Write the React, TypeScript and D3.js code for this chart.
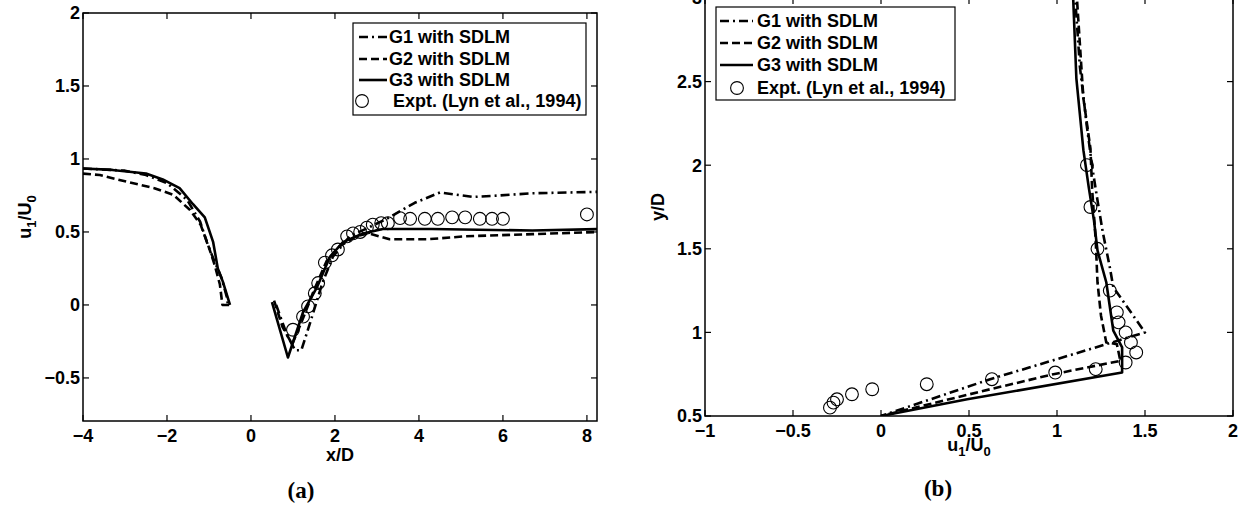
import React from 'react';
import * as d3 from 'd3';

// panel (a): streamwise velocity along the centreline
const aXTicks = [-4, -2, 0, 2, 4, 6, 8];
const aXTickLabels = ['\u22124', '\u22122', '0', '2', '4', '6', '8'];
const aYTicks = [-0.5, 0, 0.5, 1, 1.5, 2];
const aYTickLabels = ['\u22120.5', '0', '0.5', '1', '1.5', '2'];

const aG1Up = [[-4, 0.935], [-3, 0.92], [-2.5, 0.89], [-2.0, 0.835], [-1.52, 0.72], [-1.21, 0.57], [-1.05, 0.43], [-0.9, 0.32], [-0.7, 0.185], [-0.57, 0.05], [-0.55, 0.0]];
const aG2Up = [[-4, 0.9], [-3.6, 0.89], [-2.9, 0.84], [-2.3, 0.8], [-1.85, 0.755], [-1.45, 0.65], [-1.2, 0.55], [-1.02, 0.41], [-0.86, 0.27], [-0.74, 0.14], [-0.68, 0.0], [-0.5, 0.0]];
const aG3Up = [[-4, 0.935], [-3.3, 0.925], [-2.5, 0.9], [-2.1, 0.86], [-1.7, 0.8], [-1.38, 0.69], [-1.1, 0.6], [-0.9, 0.43], [-0.79, 0.25], [-0.67, 0.16], [-0.5, 0.0]];

const aG1Down = [[0.6, 0.0], [0.85, -0.2], [1.05, -0.31], [1.2, -0.31], [1.4, -0.13], [1.7, 0.15], [1.95, 0.33], [2.35, 0.47], [2.8, 0.53], [3.3, 0.6], [3.9, 0.7], [4.5, 0.77], [5.3, 0.74], [5.9, 0.75], [6.7, 0.765], [8.3, 0.775]];
const aG2Down = [[0.55, 0.03], [0.75, -0.15], [0.98, -0.27], [1.2, -0.12], [1.5, 0.1], [1.8, 0.3], [2.1, 0.4], [2.5, 0.47], [2.8, 0.49], [3.3, 0.45], [4.2, 0.45], [5.1, 0.47], [6.7, 0.485], [8.3, 0.5]];
const aG3Down = [[0.5, 0.02], [0.88, -0.36], [1.24, -0.05], [1.57, 0.12], [1.88, 0.33], [2.19, 0.43], [2.67, 0.49], [3.14, 0.52], [4.3, 0.52], [6.7, 0.51], [8.3, 0.52]];

const aExpt = [[1.0, -0.17], [1.24, -0.08], [1.36, -0.01], [1.52, 0.08], [1.6, 0.15], [1.76, 0.29], [1.93, 0.34], [2.07, 0.38], [2.29, 0.47], [2.43, 0.49], [2.6, 0.5], [2.76, 0.53], [2.9, 0.55], [3.1, 0.56], [3.26, 0.56], [3.55, 0.595], [3.79, 0.59], [4.14, 0.59], [4.45, 0.59], [4.79, 0.6], [5.1, 0.6], [5.45, 0.59], [5.74, 0.59], [6.0, 0.59], [8.0, 0.62]];

// panel (b): profile at x/D = 1
const bXTicks = [-1, -0.5, 0, 0.5, 1, 1.5, 2];
const bXTickLabels = ['\u22121', '\u22120.5', '0', '0.5', '1', '1.5', '2'];
const bYTicks = [0.5, 1, 1.5, 2, 2.5, 3];
const bYTickLabels = ['0.5', '1', '1.5', '2', '2.5', '3'];

const bG1 = [[1.1, 3.05], [1.13, 2.59], [1.17, 2.23], [1.2, 1.99], [1.23, 1.79], [1.26, 1.6], [1.3, 1.39], [1.32, 1.27], [1.5, 1.0], [1.0, 0.84], [0.62, 0.72], [0, 0.5]];
const bG2 = [[1.11, 3.05], [1.15, 2.4], [1.19, 2.1], [1.2, 1.85], [1.22, 1.55], [1.23, 1.3], [1.25, 1.1], [1.28, 0.94], [1.34, 0.93], [1.36, 0.83], [0.98, 0.75], [0.62, 0.66], [0, 0.5]];
const bG3 = [[1.09, 3.05], [1.11, 2.52], [1.15, 2.09], [1.18, 1.87], [1.21, 1.67], [1.23, 1.49], [1.28, 1.3], [1.32, 1.01], [1.37, 0.91], [1.37, 0.76], [0.49, 0.6], [0, 0.5]];
const bExpt = [[1.17, 2.0], [1.19, 1.75], [1.23, 1.5], [1.3, 1.25], [1.34, 1.12], [1.35, 1.06], [1.39, 1.0], [1.42, 0.94], [1.45, 0.88], [1.39, 0.82], [1.22, 0.78], [0.99, 0.76], [0.63, 0.72], [0.26, 0.69], [-0.05, 0.66], [-0.165, 0.63], [-0.25, 0.6], [-0.27, 0.58], [-0.29, 0.55]];

const legendNames = ['G1 with SDLM', 'G2 with SDLM', 'G3 with SDLM', 'Expt. (Lyn et al., 1994)'];

const FONT = 'Liberation Sans, Arial, sans-serif';
const DASH = { g1: '9,4,2,4', g2: '8,4', g3: null };

function Panel({ id, box, xDomain, yDomain, xTicks, xTickLabels, yTicks, yTickLabels, curves, expt, legend, xLabel, yLabel, caption }) {
    const x = d3.scaleLinear().domain(xDomain).range([box.left, box.right]);
    const y = d3.scaleLinear().domain(yDomain).range([box.bottom, box.top]);
    const line = d3.line().x(d => x(d[0])).y(d => y(d[1]));
    const tl = 6;

    return (
        <g>
            <defs>
                <clipPath id={id}>
                    <rect x={box.left} y={box.top} width={box.right - box.left} height={box.bottom - box.top} />
                </clipPath>
            </defs>
            <g clipPath={`url(#${id})`}>
                {curves.map((c, i) => (
                    <path key={i} d={line(c.data)} fill="none" stroke="#000" strokeWidth={2.6}
                        strokeDasharray={c.dash || undefined} strokeLinejoin="round" />
                ))}
                {expt.map((d, i) => (
                    <circle key={i} cx={x(d[0])} cy={y(d[1])} r={6.4} fill="none" stroke="#000" strokeWidth={1.1} />
                ))}
            </g>
            <rect x={box.left} y={box.top} width={box.right - box.left} height={box.bottom - box.top}
                fill="none" stroke="#000" strokeWidth={1.5} />
            {xTicks.map((t, i) => (
                <g key={'x' + i}>
                    <line x1={x(t)} x2={x(t)} y1={box.bottom} y2={box.bottom - tl} stroke="#000" strokeWidth={1.2} />
                    <line x1={x(t)} x2={x(t)} y1={box.top} y2={box.top + tl} stroke="#000" strokeWidth={1.2} />
                    <text x={x(t)} y={box.bottom + 21} textAnchor="middle" fontFamily={FONT} fontWeight="bold" fontSize={18}>{xTickLabels[i]}</text>
                </g>
            ))}
            {yTicks.map((t, i) => (
                <g key={'y' + i}>
                    <line x1={box.left} x2={box.left + tl} y1={y(t)} y2={y(t)} stroke="#000" strokeWidth={1.2} />
                    <line x1={box.right} x2={box.right - tl} y1={y(t)} y2={y(t)} stroke="#000" strokeWidth={1.2} />
                    <text x={box.left - 3} y={y(t)} dy="0.36em" textAnchor="end" fontFamily={FONT} fontWeight="bold" fontSize={18}>{yTickLabels[i]}</text>
                </g>
            ))}
            <text x={(box.left + box.right) / 2} y={xLabel.y} textAnchor="middle" fontFamily={FONT} fontWeight="bold" fontSize={18}>
                {xLabel.parts}
            </text>
            <text transform={`translate(${yLabel.x},${(box.top + box.bottom) / 2}) rotate(-90)`} textAnchor="middle"
                fontFamily={FONT} fontWeight="bold" fontSize={18}>
                {yLabel.parts}
            </text>
            <text x={caption.x} y={caption.y} textAnchor="middle" fontFamily="Liberation Serif, serif" fontWeight="bold" fontSize={23}>{caption.text}</text>
            <g>
                <rect x={legend.x0} y={legend.y0} width={legend.x1 - legend.x0} height={legend.y1 - legend.y0}
                    fill="#fff" stroke="#000" strokeWidth={1.2} />
                {legendNames.map((name, i) => {
                    const ly = legend.rows[i];
                    const isExpt = i === 3;
                    return (
                        <g key={name}>
                            {isExpt
                                ? <circle cx={legend.circleX} cy={ly} r={6.4} fill="none" stroke="#000" strokeWidth={1.1} />
                                : <line x1={legend.lineX0} x2={legend.lineX1} y1={ly} y2={ly} stroke="#000" strokeWidth={2.6}
                                    strokeDasharray={curves[i].dash || undefined} />}
                            <text x={isExpt ? legend.exptTextX : legend.textX} y={ly} dy="0.36em" fontFamily={FONT}
                                fontWeight="bold" fontSize={18}>{name}</text>
                        </g>
                    );
                })}
            </g>
        </g>
    );
}

const uLabel = [
    <tspan key="a">u</tspan>,
    <tspan key="b" fontSize={13} dy={5}>1</tspan>,
    <tspan key="c" dy={-5}>/U</tspan>,
    <tspan key="d" fontSize={13} dy={5}>0</tspan>,
];

export default function App() {
    const curvesA = [
        { data: aG1Up, dash: DASH.g1 }, { data: aG2Up, dash: DASH.g2 }, { data: aG3Up, dash: DASH.g3 },
    ];
    const downA = [
        { data: aG1Down, dash: DASH.g1 }, { data: aG2Down, dash: DASH.g2 }, { data: aG3Down, dash: DASH.g3 },
    ];
    const curvesB = [
        { data: bG1, dash: DASH.g1 }, { data: bG2, dash: DASH.g2 }, { data: bG3, dash: DASH.g3 },
    ];

    return (
        <svg width={1244} height={510} style={{ position: 'absolute', left: 0, top: 0, background: '#fff' }}>
            <rect width={1244} height={510} fill="#fff" />
            <Panel
                id="clipA"
                box={{ left: 83, right: 597, top: 13, bottom: 421 }}
                xDomain={[-4, 8.24]} yDomain={[-0.795, 2]}
                xTicks={aXTicks} xTickLabels={aXTickLabels} yTicks={aYTicks} yTickLabels={aYTickLabels}
                curves={[...curvesA, ...downA]}
                expt={aExpt}
                legend={{ x0: 353, x1: 586, y0: 23, y1: 115, rows: [37, 59, 80, 101], lineX0: 359, lineX1: 387, textX: 389, circleX: 362, exptTextX: 393 }}
                xLabel={{ y: 461, parts: 'x/D' }}
                yLabel={{ x: 31, parts: uLabel }}
                caption={{ x: 301, y: 498, text: '(a)' }}
            />
            <Panel
                id="clipB"
                box={{ left: 705, right: 1233, top: -2, bottom: 416 }}
                xDomain={[-1, 2]} yDomain={[0.5, 3]}
                xTicks={bXTicks} xTickLabels={bXTickLabels} yTicks={bYTicks} yTickLabels={bYTickLabels}
                curves={curvesB}
                expt={bExpt}
                legend={{ x0: 716, x1: 955, y0: 7, y1: 100, rows: [21, 43, 65, 88], lineX0: 720, lineX1: 753, textX: 757, circleX: 737, exptTextX: 757 }}
                xLabel={{ y: 451, parts: uLabel }}
                yLabel={{ x: 664, parts: 'y/D' }}
                caption={{ x: 938, y: 496, text: '(b)' }}
            />
        </svg>
    );
}
